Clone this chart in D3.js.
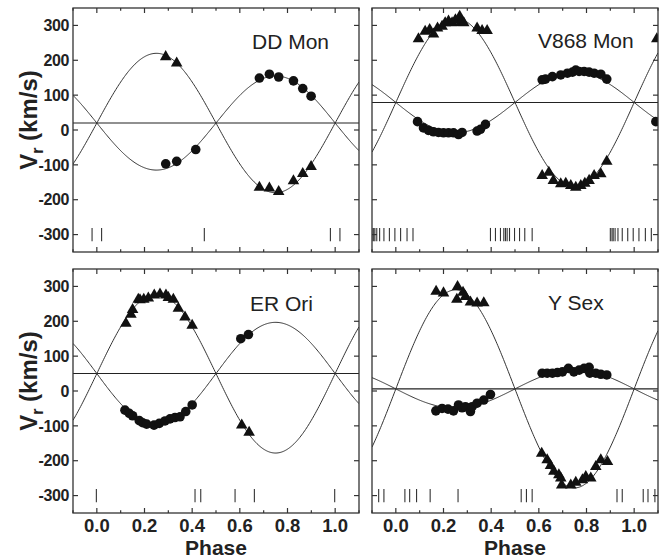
<!DOCTYPE html>
<html lang="en">
<head>
<meta charset="UTF-8" />
<title>Radial velocity curves</title>
<script src="https://d3js.org/d3.v7.min.js"></script>
<style>
  body { margin: 0; background: #fff; }
  svg { display: block; font-family: "Liberation Sans", Arial, Helvetica, sans-serif; }
</style>
</head>
<body>
<div id="chart"></div>
<script>
// ---- data ----
const stars = ["DD Mon", "V868 Mon", "ER Ori", "Y Sex"];
// orbit fit parameters: systemic velocity and semi-amplitudes (km/s)
const gamma = [20, 79, 50, 6];
const k1 = [200, 242, 228, 284];   // triangles (primary)
const k2 = [135, 87, 147, 55];     // circles (secondary)

// [phase, velocity]
const ddMonTri = [[0.289, 210], [0.335, 192], [0.682, -165], [0.724, -167], [0.763, -177],
  [0.825, -146], [0.864, -125], [0.899, -105]];
const ddMonCirc = [[0.289, -97], [0.335, -90], [0.415, -56], [0.682, 149], [0.724, 160],
  [0.763, 152], [0.825, 141], [0.864, 119], [0.899, 97]];
const ddMonPhot = [0.98, 0.02, 0.451];

const v868Tri = [[0.095, 261], [0.123, 283], [0.142, 288], [0.158, 275], [0.175, 292],
  [0.194, 297], [0.207, 307], [0.221, 312], [0.236, 307], [0.250, 316], [0.268, 326],
  [0.271, 308], [0.285, 307], [0.341, 292], [0.362, 285], [0.383, 285],
  [0.614, -131], [0.642, -122], [0.661, -145], [0.692, -155], [0.713, -153], [0.734, -160],
  [0.755, -165], [0.776, -160], [0.793, -153], [0.811, -145], [0.832, -131], [0.860, -126],
  [0.885, -90]];
const v868Circ = [[0.091, 24], [0.116, 6], [0.137, -1], [0.158, -5], [0.179, -7],
  [0.200, -8], [0.221, -8], [0.242, -8], [0.263, -13], [0.278, -7], [0.341, -3], [0.355, 2],
  [0.376, 16], [0.614, 144], [0.628, 146], [0.657, 153], [0.692, 158], [0.720, 163],
  [0.741, 166], [0.755, 172], [0.769, 168], [0.790, 168], [0.811, 166], [0.832, 163],
  [0.860, 160], [0.885, 146]];
const v868Phot = [0.900, 0.907, 0.912, 0.920, 0.932, 0.950, 0.973, 0.996, 0.020, 0.047, 0.072,
  0.397, 0.418, 0.439, 0.453, 0.460, 0.467, 0.477, 0.498, 0.519, 0.541, 0.572];

const erOriTri = [[0.122, 194], [0.143, 220], [0.150, 233], [0.174, 263], [0.181, 261],
  [0.197, 263], [0.216, 266], [0.241, 275], [0.265, 278], [0.290, 275], [0.300, 268],
  [0.321, 263], [0.342, 237], [0.370, 212], [0.400, 188], [0.608, -98], [0.639, -119]];
const erOriCirc = [[0.118, -55], [0.136, -64], [0.150, -71], [0.178, -85], [0.192, -91],
  [0.209, -95], [0.240, -98], [0.262, -93], [0.286, -86], [0.307, -80], [0.328, -76],
  [0.349, -74], [0.373, -59], [0.400, -40], [0.604, 150], [0.636, 162]];
const erOriPhot = [0.998, 0.412, 0.436, 0.580, 0.661];

const ySexTri = [[0.169, 286], [0.200, 281], [0.259, 299], [0.256, 263], [0.282, 283],
  [0.292, 271], [0.313, 255], [0.341, 252], [0.369, 253], [0.612, -179], [0.635, -198],
  [0.649, -214], [0.663, -231], [0.684, -241], [0.692, -250], [0.696, -270], [0.734, -270],
  [0.755, -262], [0.783, -255], [0.797, -246], [0.818, -250], [0.839, -217], [0.860, -198],
  [0.888, -203]];
const ySexCirc = [[0.168, -57], [0.194, -50], [0.219, -52], [0.242, -57], [0.263, -40],
  [0.278, -48], [0.292, -45], [0.313, -59], [0.320, -45], [0.341, -35], [0.369, -26],
  [0.397, -10], [0.614, 51], [0.635, 51], [0.657, 51], [0.678, 53], [0.699, 55], [0.724, 65],
  [0.747, 55], [0.769, 60], [0.790, 65], [0.811, 68], [0.814, 51], [0.839, 51], [0.860, 48],
  [0.885, 46]];
const ySexPhot = [0.928, 0.950, 0.038, 0.058, 0.087, 0.144, 0.261, 0.526, 0.548, 0.572];

const triSets = [ddMonTri, v868Tri, erOriTri, ySexTri];
const circSets = [ddMonCirc, v868Circ, erOriCirc, ySexCirc];
const photSets = [ddMonPhot, v868Phot, erOriPhot, ySexPhot];

const yTicks = [-300, -200, -100, 0, 100, 200, 300];
const xMajor = [0.0, 0.2, 0.4, 0.6, 0.8, 1.0];
const xMinor = [-0.1, 0.1, 0.3, 0.5, 0.7, 0.9, 1.1];

// ---- layout ----
const W = 665, H = 560;
const colX = [73, 372], rowY = [8, 269];
const pw = 286, ph = 244;
// star label position inside each panel (x start, baseline)
const labelPos = [[179, 41], [166, 40], [177, 42], [176, 41]];

const svg = d3.select("#chart").append("svg").attr("width", W).attr("height", H);

const x = d3.scaleLinear().domain([-0.1, 1.1]).range([0, pw]);
const y = d3.scaleLinear().domain([-350, 350]).range([ph, 0]);

// phase values covering the plotted range for the fitted curves
const curvePhases = d3.range(-0.1, 1.1001, 0.004);

// a phase is also shown one cycle earlier / later when that falls in the window
function copies(p) {
  return [p - 1, p, p + 1].filter(q => q >= -0.1 && q <= 1.1);
}

stars.forEach((name, i) => {
  const col = i % 2, row = Math.floor(i / 2);
  const g = svg.append("g").attr("transform", `translate(${colX[col]},${rowY[row]})`);

  g.append("clipPath").attr("id", "clip" + i)
    .append("rect").attr("width", pw).attr("height", ph);
  const inner = g.append("g").attr("clip-path", `url(#clip${i})`);

  // systemic velocity
  inner.append("line")
    .attr("x1", 0).attr("x2", pw)
    .attr("y1", y(gamma[i])).attr("y2", y(gamma[i]))
    .attr("stroke", "#222").attr("stroke-width", 1.1);

  // fitted curves
  const line = d3.line().x(d => x(d[0])).y(d => y(d[1]));
  const c1 = curvePhases.map(p => [p, gamma[i] + k1[i] * Math.sin(2 * Math.PI * p)]);
  const c2 = curvePhases.map(p => [p, gamma[i] - k2[i] * Math.sin(2 * Math.PI * p)]);
  [c1, c2].forEach(c => inner.append("path").attr("d", line(c))
    .attr("fill", "none").attr("stroke", "#333").attr("stroke-width", 1));

  // photometric phase marks
  const marks = photSets[i].flatMap(copies);
  inner.selectAll(".mark").data(marks).join("line")
    .attr("x1", d => x(d)).attr("x2", d => x(d))
    .attr("y1", y(-281)).attr("y2", y(-319))
    .attr("stroke", "#333").attr("stroke-width", 1.1);

  // observations
  const circPts = circSets[i].flatMap(d => copies(d[0]).map(p => [p, d[1]]));
  const triPts = triSets[i].flatMap(d => copies(d[0]).map(p => [p, d[1]]));
  inner.selectAll(".circ").data(circPts).join("circle")
    .attr("cx", d => x(d[0])).attr("cy", d => y(d[1])).attr("r", 4.8)
    .attr("fill", "#111");
  const tri = d3.symbol(d3.symbolTriangle, 58);
  inner.selectAll(".tri").data(triPts).join("path")
    .attr("d", tri)
    .attr("transform", d => `translate(${x(d[0])},${y(d[1])})`)
    .attr("fill", "#111");

  // frame
  g.append("rect").attr("width", pw).attr("height", ph)
    .attr("fill", "none").attr("stroke", "#333").attr("stroke-width", 1.3);

  // inward ticks on all sides
  const tk = g.append("g").attr("stroke", "#333").attr("stroke-width", 1.2);
  yTicks.forEach(v => {
    tk.append("line").attr("x1", 0).attr("x2", 5).attr("y1", y(v)).attr("y2", y(v));
    tk.append("line").attr("x1", pw - 5).attr("x2", pw).attr("y1", y(v)).attr("y2", y(v));
  });
  xMajor.concat(xMinor).forEach(p => {
    const len = xMajor.includes(p) ? 5 : 2.7;
    tk.append("line").attr("x1", x(p)).attr("x2", x(p)).attr("y1", ph).attr("y2", ph - len);
    tk.append("line").attr("x1", x(p)).attr("x2", x(p)).attr("y1", 0).attr("y2", len);
  });

  // star name
  g.append("text").attr("x", labelPos[i][0]).attr("y", labelPos[i][1])
    .attr("font-size", 21).attr("fill", "#222").text(name);

  // y tick labels and title for left column
  if (col === 0) {
    g.selectAll(".ylab").data(yTicks).join("text")
      .attr("x", -4).attr("y", d => y(d)).attr("dy", "0.36em")
      .attr("text-anchor", "end").attr("font-size", 16).attr("font-weight", "bold")
      .attr("letter-spacing", -0.4).attr("fill", "#222")
      .text(d => d);

    const t = g.append("text")
      .attr("transform", `translate(-36,${ph / 2 - 10}) rotate(-90)`)
      .attr("text-anchor", "middle").attr("font-size", 24).attr("font-weight", "bold")
      .attr("fill", "#222");
    t.append("tspan").text("V");
    t.append("tspan").attr("font-size", 16).attr("dy", 6).text("r");
    t.append("tspan").attr("dy", -6).text(" (km/s)");
  }

  // x tick labels and title for bottom row
  if (row === 1) {
    g.selectAll(".xlab").data(xMajor).join("text")
      .attr("x", d => x(d)).attr("y", ph + 19)
      .attr("text-anchor", "middle").attr("font-size", 18.5).attr("font-weight", "bold")
      .attr("fill", "#222")
      .text(d => d3.format(".1f")(d));
    g.append("text").attr("x", pw / 2).attr("y", ph + 42)
      .attr("text-anchor", "middle").attr("font-size", 21).attr("font-weight", "bold")
      .attr("fill", "#222").text("Phase");
  }
});
</script>
</body>
</html>
